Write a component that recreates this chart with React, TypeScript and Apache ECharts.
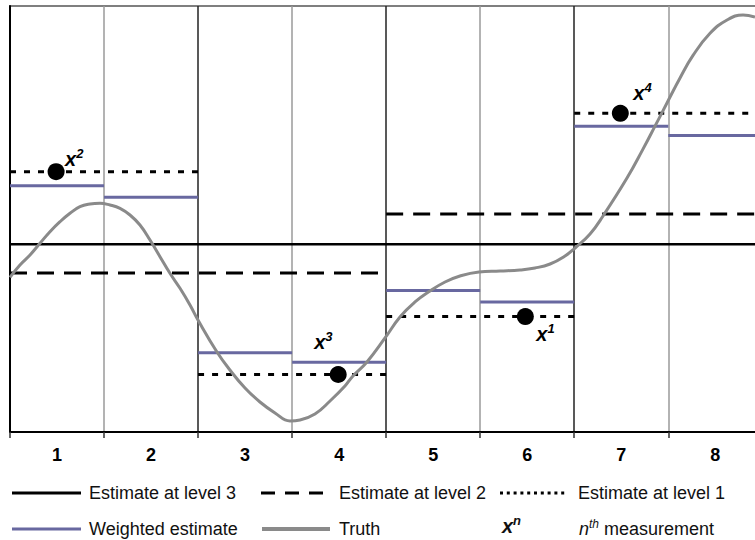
import React, { useEffect, useRef } from 'react';
import * as echarts from 'echarts';

// ---- data ----
const columnLabels = ['1', '2', '3', '4', '5', '6', '7', '8'];
const level3 = [4.41];
const level2 = [3.73, 5.12];
const level1 = [6.11, 1.35, 2.71, 7.48];
const weighted = [5.78, 5.51, 1.86, 1.64, 3.32, 3.05, 7.18, 6.96];
const measN = ['1', '2', '3', '4'];
const measX = [5.48, 0.49, 3.49, 6.49];
const measY = [2.71, 6.11, 1.35, 7.48];
const truthX = [0, 0.106, 0.213, 0.319, 0.425, 0.532, 0.638, 0.744, 0.851, 0.957, 1.063, 1.17, 1.276, 1.382, 1.489, 1.595, 1.701, 1.808, 1.914, 1.999, 2.201, 2.339, 2.499, 2.658, 2.818, 2.977, 3.084, 3.243, 3.403, 3.562, 3.647, 3.796, 3.988, 4.147, 4.307, 4.466, 4.626, 4.785, 4.987, 5.211, 5.423, 5.583, 5.743, 5.902, 6.009, 6.168, 6.306, 6.561, 6.731, 6.859, 6.997, 7.125, 7.263, 7.444, 7.625, 7.795, 7.922];
const truthY = [3.631, 3.92, 4.155, 4.43, 4.702, 4.937, 5.134, 5.289, 5.352, 5.369, 5.329, 5.251, 5.094, 4.859, 4.507, 4.115, 3.725, 3.373, 2.981, 2.629, 1.878, 1.455, 1.033, 0.704, 0.446, 0.258, 0.282, 0.423, 0.728, 1.08, 1.315, 1.643, 2.207, 2.7, 3.052, 3.31, 3.521, 3.662, 3.756, 3.779, 3.803, 3.85, 3.944, 4.131, 4.319, 4.648, 5.07, 5.96, 6.64, 7.18, 7.77, 8.31, 8.84, 9.36, 9.671, 9.789, 9.742];

// ---- styles ----
const FONT = '"Liberation Sans", Arial, Helvetica, sans-serif';
const BLUE = '#6868a0';
const GRAY = '#8a8a8a';
const NCOL = columnLabels.length;
const labelOffsets: Record<string, [number, number]> = {
  '1': [11, 17],
  '2': [9, -13],
  '3': [-24, -32],
  '4': [13, -20],
};

function segments(values: number[], lineStyle: any, z: number) {
  const span = NCOL / values.length;
  return values.map((v, i) => ({
    type: 'line',
    data: [[i * span, v], [(i + 1) * span, v]],
    symbol: 'none',
    silent: true,
    z,
    lineStyle,
  }));
}

const richX = {
  x: { fontSize: 20, fontWeight: 'bold', fontStyle: 'italic', fontFamily: FONT, color: '#000', lineHeight: 24 },
  s: { fontSize: 13, fontWeight: 'bold', fontStyle: 'italic', fontFamily: FONT, color: '#000', lineHeight: 19, verticalAlign: 'top' },
};

function lgLine(x1: number, x2: number, y: number, stroke: string, lineWidth: number, lineDash?: number[]) {
  return { type: 'line', silent: true, shape: { x1, y1: y, x2, y2: y }, style: { stroke, lineWidth, lineDash } };
}
function lgText(x: number, y: number, text: string, rich?: any) {
  return {
    type: 'text', silent: true, x, y,
    style: { text, font: `18px ${FONT}`, fill: '#111', verticalAlign: 'middle', align: 'left', rich },
  };
}

export default function App() {
  const ref = useRef<HTMLDivElement>(null);
  useEffect(() => {
    if (!ref.current) return;
    const chart = echarts.init(ref.current, undefined, { renderer: 'svg' });
    const truthData = truthX.map((x, i) => [x, truthY[i]]);
    const measData = measX.map((x, i) => ({
      value: [x, measY[i]],
      label: {
        formatter: `{x|x}{s|${measN[i]}}`,
        offset: labelOffsets[measN[i]],
      },
    }));
    const option: any = {
      animation: false,
      backgroundColor: '#fff',
      grid: {
        left: 10, top: 6, width: 94.04 * NCOL, height: 426,
        outerBoundsMode: 'none', containLabel: false,
        show: true, borderColor: '#555', borderWidth: 1.5, backgroundColor: 'transparent',
      },
      xAxis: [
        {
          type: 'value', min: 0, max: NCOL, interval: 0.5, position: 'bottom',
          axisLine: { show: true, lineStyle: { color: '#000', width: 2 } },
          axisTick: { show: false },
          axisLabel: {
            margin: 14, fontSize: 18, fontWeight: 'bold', color: '#000', fontFamily: FONT,
            formatter: (v: number) => {
              const k = Math.round(v * 2);
              return k % 2 === 1 ? columnLabels[(k - 1) / 2] : '';
            },
          },
          splitLine: { show: true, lineStyle: { color: ['#222', 'rgba(0,0,0,0)', '#9a9a9a', 'rgba(0,0,0,0)'], width: 1.5 } },
        },
        {
          type: 'value', min: 0, max: NCOL, interval: 1, position: 'bottom',
          axisLine: { show: false },
          axisTick: { show: true, length: 6, lineStyle: { color: '#333', width: 1.5 } },
          axisLabel: { show: false },
          splitLine: { show: false },
        },
      ],
      yAxis: {
        type: 'value', min: 0, max: 10,
        axisLine: { show: true, lineStyle: { color: '#000', width: 2 } },
        axisTick: { show: false }, axisLabel: { show: false }, splitLine: { show: false },
      },
      series: [
        ...segments(level3, { color: '#000', width: 2.5, type: 'solid' }, 2),
        ...segments(level2, { color: '#000', width: 3, type: [17, 10] }, 2),
        ...segments(level1, { color: '#000', width: 3, type: [6, 8] }, 2),
        ...segments(weighted, { color: BLUE, width: 3, type: 'solid' }, 3),
        {
          type: 'line', data: truthData, symbol: 'none', smooth: 0.45, silent: true, z: 4,
          lineStyle: { color: GRAY, width: 3 },
        },
        {
          type: 'scatter', data: measData, symbol: 'circle', symbolSize: 17, z: 5, silent: true,
          itemStyle: { color: '#000', opacity: 1 },
          label: { show: true, position: 'inside', align: 'left', verticalAlign: 'middle', rich: richX },
        },
      ],
      graphic: [
        lgLine(12, 81, 493, '#000', 3),
        lgText(89, 493, 'Estimate at level 3'),
        lgLine(261, 323, 493, '#000', 3, [14, 10]),
        lgText(339, 493, 'Estimate at level 2'),
        lgLine(500, 565, 493, '#000', 3, [3, 3.8]),
        lgText(578, 493, 'Estimate at level 1'),
        lgLine(12, 81, 529, BLUE, 3),
        lgText(89, 529, 'Weighted estimate'),
        lgLine(262, 330, 529, GRAY, 4),
        lgText(339, 529, 'Truth'),
        lgText(502, 526, '{x|x}{s|n}', richX),
        lgText(579, 529, '{i|n}{s|th}{r| measurement}', {
          i: { fontSize: 18, fontStyle: 'italic', fontFamily: FONT, color: '#111', lineHeight: 22 },
          s: { fontSize: 12, fontStyle: 'italic', fontFamily: FONT, color: '#111', lineHeight: 18, verticalAlign: 'top' },
          r: { fontSize: 18, fontFamily: FONT, color: '#111', lineHeight: 22 },
        }),
      ],
    };
    chart.setOption(option);
    return () => chart.dispose();
  }, []);
  return <div ref={ref} style={{ position: 'fixed', left: 0, top: 0, width: 755, height: 540 }} />;
}
